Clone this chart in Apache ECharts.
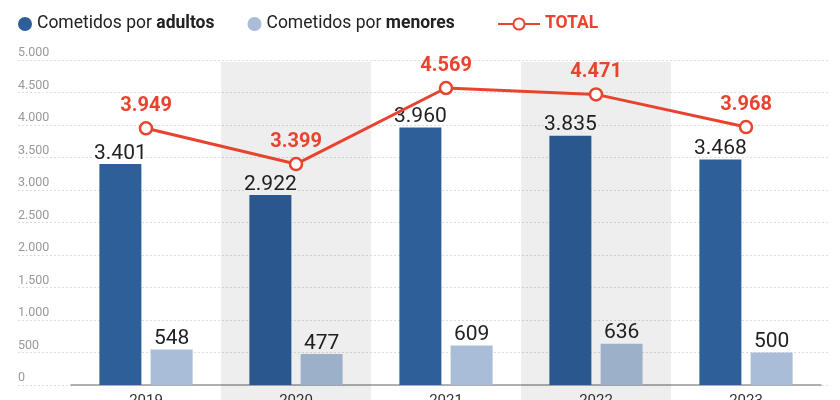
<!DOCTYPE html>
<html><head><meta charset="utf-8">
<script src="https://cdn.jsdelivr.net/npm/echarts@6/dist/echarts.min.js"></script>
<style>html,body{margin:0;padding:0;background:#fff}#c{width:840px;height:400px}</style>
</head><body><div id="c"></div>
<script>
const years = ['2019','2020','2021','2022','2023'];
const adults = [3401, 2922, 3960, 3835, 3468];
const minors = [548, 477, 609, 636, 500];
const total = [3949, 3399, 4569, 4471, 3968];
const shaded = [0, 1, 0, 1, 0];
const yTicks = {min: 0, max: 5000, interval: 500};

const fmt = v => String(v).replace(/\B(?=(\d{3})+(?!\d))/g, '.');
const F = 'Roboto, "Noto Sans", sans-serif';
const chart = echarts.init(document.getElementById('c'), null, {renderer: 'canvas'});
chart.setOption({
  animation: false,
  textStyle: {fontFamily: F},
  legend: [{
    left: 13, top: 10, icon: 'circle', itemWidth: 14, itemHeight: 14, itemGap: 33,
    data: ['Cometidos por adultos', 'Cometidos por menores'],
    formatter: n => n.replace(/(adultos|menores)$/, '{b|$1}'),
    textStyle: {fontSize: 17.5, color: '#222', fontFamily: F,
      rich: {b: {fontSize: 17.5, fontWeight: 'bold', color: '#222', fontFamily: F}}}
  }, {
    left: 492, top: 10, itemWidth: 42, itemHeight: 14, itemGap: 8,
    data: ['TOTAL'],
    textStyle: {fontSize: 17.5, color: '#e8432e', fontWeight: 'bold', fontFamily: F}
  }],
  grid: [
    {left: 71, right: 19, top: 60, bottom: 15, outerBoundsMode: 'none', containLabel: false},
    {left: 18, right: 10, top: 60, bottom: 15, outerBoundsMode: 'none', containLabel: false},
    {left: 71, right: 19, top: 62, bottom: 0, outerBoundsMode: 'none', containLabel: false}
  ],
  xAxis: [
    {type: 'category', data: years, gridIndex: 0,
      axisLine: {lineStyle: {color: '#999', width: 1.5}}, axisTick: {show: false},
      axisLabel: {color: '#333', fontSize: 15, margin: 9}},
    {type: 'value', gridIndex: 1, min: 0, max: 1, show: false},
    {type: 'category', data: years, gridIndex: 2, show: false}
  ],
  yAxis: [
    {type: 'value', gridIndex: 0, min: yTicks.min, max: yTicks.max, interval: yTicks.interval,
      axisLabel: {show: false}, splitLine: {show: false}, axisLine: {show: false}, axisTick: {show: false}},
    {type: 'value', gridIndex: 1, min: yTicks.min, max: yTicks.max, interval: yTicks.interval,
      axisLine: {show: false}, axisTick: {show: false},
      axisLabel: {inside: true, formatter: fmt, color: '#999', fontSize: 12.5,
        verticalAlign: 'bottom', lineHeight: 14, margin: 0},
      splitLine: {lineStyle: {color: '#ddd', type: [2, 2]}}},
    {type: 'value', gridIndex: 2, min: 0, max: 1, show: false}
  ],
  series: [
    {name: 'band', type: 'bar', xAxisIndex: 2, yAxisIndex: 2, data: shaded,
      barWidth: '100%', z: 4, silent: true,
      itemStyle: {color: 'rgba(0,0,0,0.065)'}},
    {name: 'Cometidos por adultos', type: 'bar', data: adults, barWidth: 42, barGap: '22%', z: 3,
      itemStyle: {color: '#2e5f99'},
      label: {show: true, position: 'top', distance: 0, formatter: p => fmt(p.value),
        fontSize: 21, color: '#222', textBorderColor: '#fff', textBorderWidth: 3}},
    {name: 'Cometidos por menores', type: 'bar', data: minors, barWidth: 42, z: 3,
      itemStyle: {color: '#a9bdd9'},
      label: {show: true, position: 'top', distance: 0, formatter: p => fmt(p.value),
        fontSize: 21, color: '#222', textBorderColor: '#fff', textBorderWidth: 3}},
    {name: 'TOTAL', type: 'line', data: total, z: 5,
      symbol: 'circle', symbolSize: 12, showAllSymbol: true,
      lineStyle: {color: '#e8432e', width: 3},
      itemStyle: {color: '#fff', borderColor: '#e8432e', borderWidth: 2.5},
      label: {show: true, position: 'top', distance: 5, formatter: p => fmt(p.value),
        fontSize: 20, fontWeight: 'bold', color: '#e8432e'}}
  ]
});
</script></body></html>
